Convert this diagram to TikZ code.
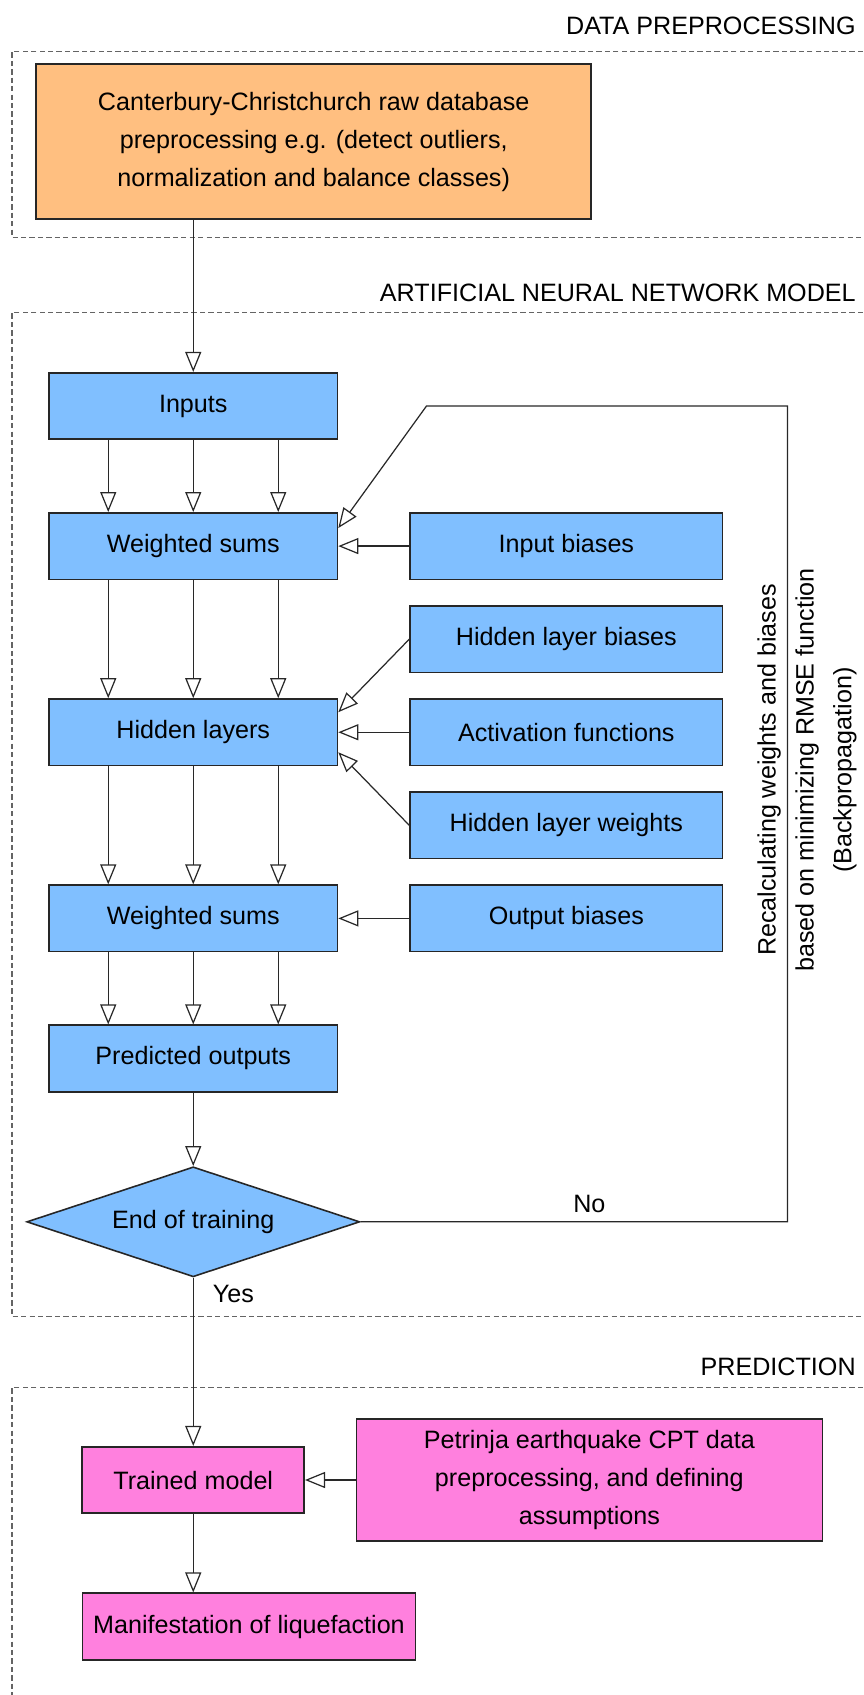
\documentclass[tikz,border=0pt]{standalone}
\usepackage{fontspec}
\setmainfont{Liberation Sans}
\usepackage{tikz}
\usetikzlibrary{positioning,arrows.meta,shapes.geometric}
\definecolor{prep}{RGB}{255,191,128}
\definecolor{ann}{RGB}{128,191,255}
\definecolor{pred}{RGB}{255,128,222}
\definecolor{edge}{RGB}{40,40,40}
\definecolor{frame}{RGB}{100,100,100}
\newcommand{\lblfont}{\fontsize{14.3}{21.5}\selectfont}

\begin{document}
\begin{tikzpicture}[
  box/.style={draw=black!85, line width=0.9pt, minimum height=1.33cm,
              align=center, font=\lblfont, inner sep=2pt},
  mainbox/.style={box, fill=ann, minimum width=5.77cm},
  sidebox/.style={box, fill=ann, minimum width=6.25cm},
  predbox/.style={box, fill=pred},
  decision/.style={diamond, draw=black!85, line width=0.9pt, fill=ann, font=\lblfont,
                   minimum width=6.66cm, minimum height=2.2cm, aspect=3, inner sep=0pt},
  arr/.style={-{Triangle[open, length=4mm, width=3.2mm]}, line width=0.7pt, draw=edge},
  section/.style={dash pattern=on 3pt off 1.8pt, draw=frame, line width=0.8pt},
  title/.style={font=\lblfont, anchor=base east, inner sep=0pt},
  lbl/.style={font=\lblfont, inner sep=0pt},
]
\useasboundingbox (0,0) rectangle (17.26,-33.9);

% Section frames and titles
\draw[section] (17.26,-1.03) -| (0.24,-4.75) -- (17.26,-4.75);
\draw[section] (17.26,-6.25) -| (0.24,-26.33) -- (17.26,-26.33);
\draw[section] (17.26,-27.75) -| (0.24,-33.9);
\node[title] (preptitle) at (17.12,-0.69) {DATA PREPROCESSING};
\node[title] (anntitle) at (17.12,-6.03) {ARTIFICIAL NEURAL NETWORK MODEL};
\node[title] (predtitle) at (17.12,-27.5) {PREDICTION};

% Data preprocessing
\node[box, fill=prep, minimum width=11.1cm, minimum height=3.1cm] (raw) at (6.275,-2.835)
  {Canterbury-Christchurch raw database\\preprocessing e.g. (detect outliers,\\normalization and balance classes)};

% Neural network model
\node[mainbox] (inputs) at (3.865,-8.12) {Inputs};
\node[mainbox, below=1.44cm of inputs] (wsin) {Weighted sums};
\node[sidebox, right=1.42cm of wsin] (inbias) {Input biases};
\node[sidebox, below=0.5cm of inbias] (hidbias) {Hidden layer biases};
\node[sidebox, below=0.5cm of hidbias] (actfun) {Activation functions};
\node[sidebox, below=0.5cm of actfun] (hidwt) {Hidden layer weights};
\node[sidebox, below=0.5cm of hidwt] (outbias) {Output biases};
\node[mainbox, left=1.42cm of actfun] (hidden) {Hidden layers};
\node[mainbox, left=1.42cm of outbias] (wsout) {Weighted sums};
\node[mainbox, below=1.44cm of wsout] (outputs) {Predicted outputs};
\node[decision, below=1.47cm of outputs] (stop) {End of training};
\node[lbl, rotate=90, align=center] (backprop) at (16.14,-15.4)
  {Recalculating weights and biases\\based on minimizing RMSE function\\(Backpropagation)};
\coordinate (looptop) at (8.53,-8.12);
\coordinate (loopright) at (15.75,0);

% Prediction
\node[predbox, minimum width=4.44cm] (trained) at (3.865,-29.6) {Trained model};
\node[predbox, minimum width=9.32cm, minimum height=2.43cm, right=1.01cm of trained] (cpt)
  {Petrinja earthquake CPT data\\preprocessing, and defining\\assumptions};
\node[predbox, minimum width=6.66cm] (liq) at (4.98,-32.53) {Manifestation of liquefaction};

% Connections
\draw[arr] (raw.south -| inputs.north) -- (inputs.north);
\foreach \a/\b in {inputs/wsin, wsin/hidden, hidden/wsout, wsout/outputs}
  \foreach \dx in {-1.7,0,1.7}
    \draw[arr] ([xshift=\dx cm]\a.south) -- ([xshift=\dx cm]\b.north);
\draw[arr] (inbias.west) -- (wsin.east);
\draw[arr] (hidbias.west) -- ([yshift=0.4cm]hidden.east);
\draw[arr] (actfun.west) -- (hidden.east);
\draw[arr] (hidwt.west) -- ([yshift=-0.4cm]hidden.east);
\draw[arr] (outbias.west) -- (wsout.east);
\draw[arr] (outputs.south) -- (stop.north);
\draw[arr] (stop.east) -- node[lbl, above=5pt, pos=0.536] (no) {No} (stop.east -| loopright)
  |- (looptop) -- ([yshift=0.36cm]wsin.east);
\draw[arr] (stop.south) -- node[lbl, pos=0.1, anchor=west, xshift=0.38cm] (yes) {Yes} (trained.north);
\draw[arr] (cpt.west) -- (trained.east);
\draw[arr] (trained.south) -- (trained.south |- liq.north);
\end{tikzpicture}
\end{document}
